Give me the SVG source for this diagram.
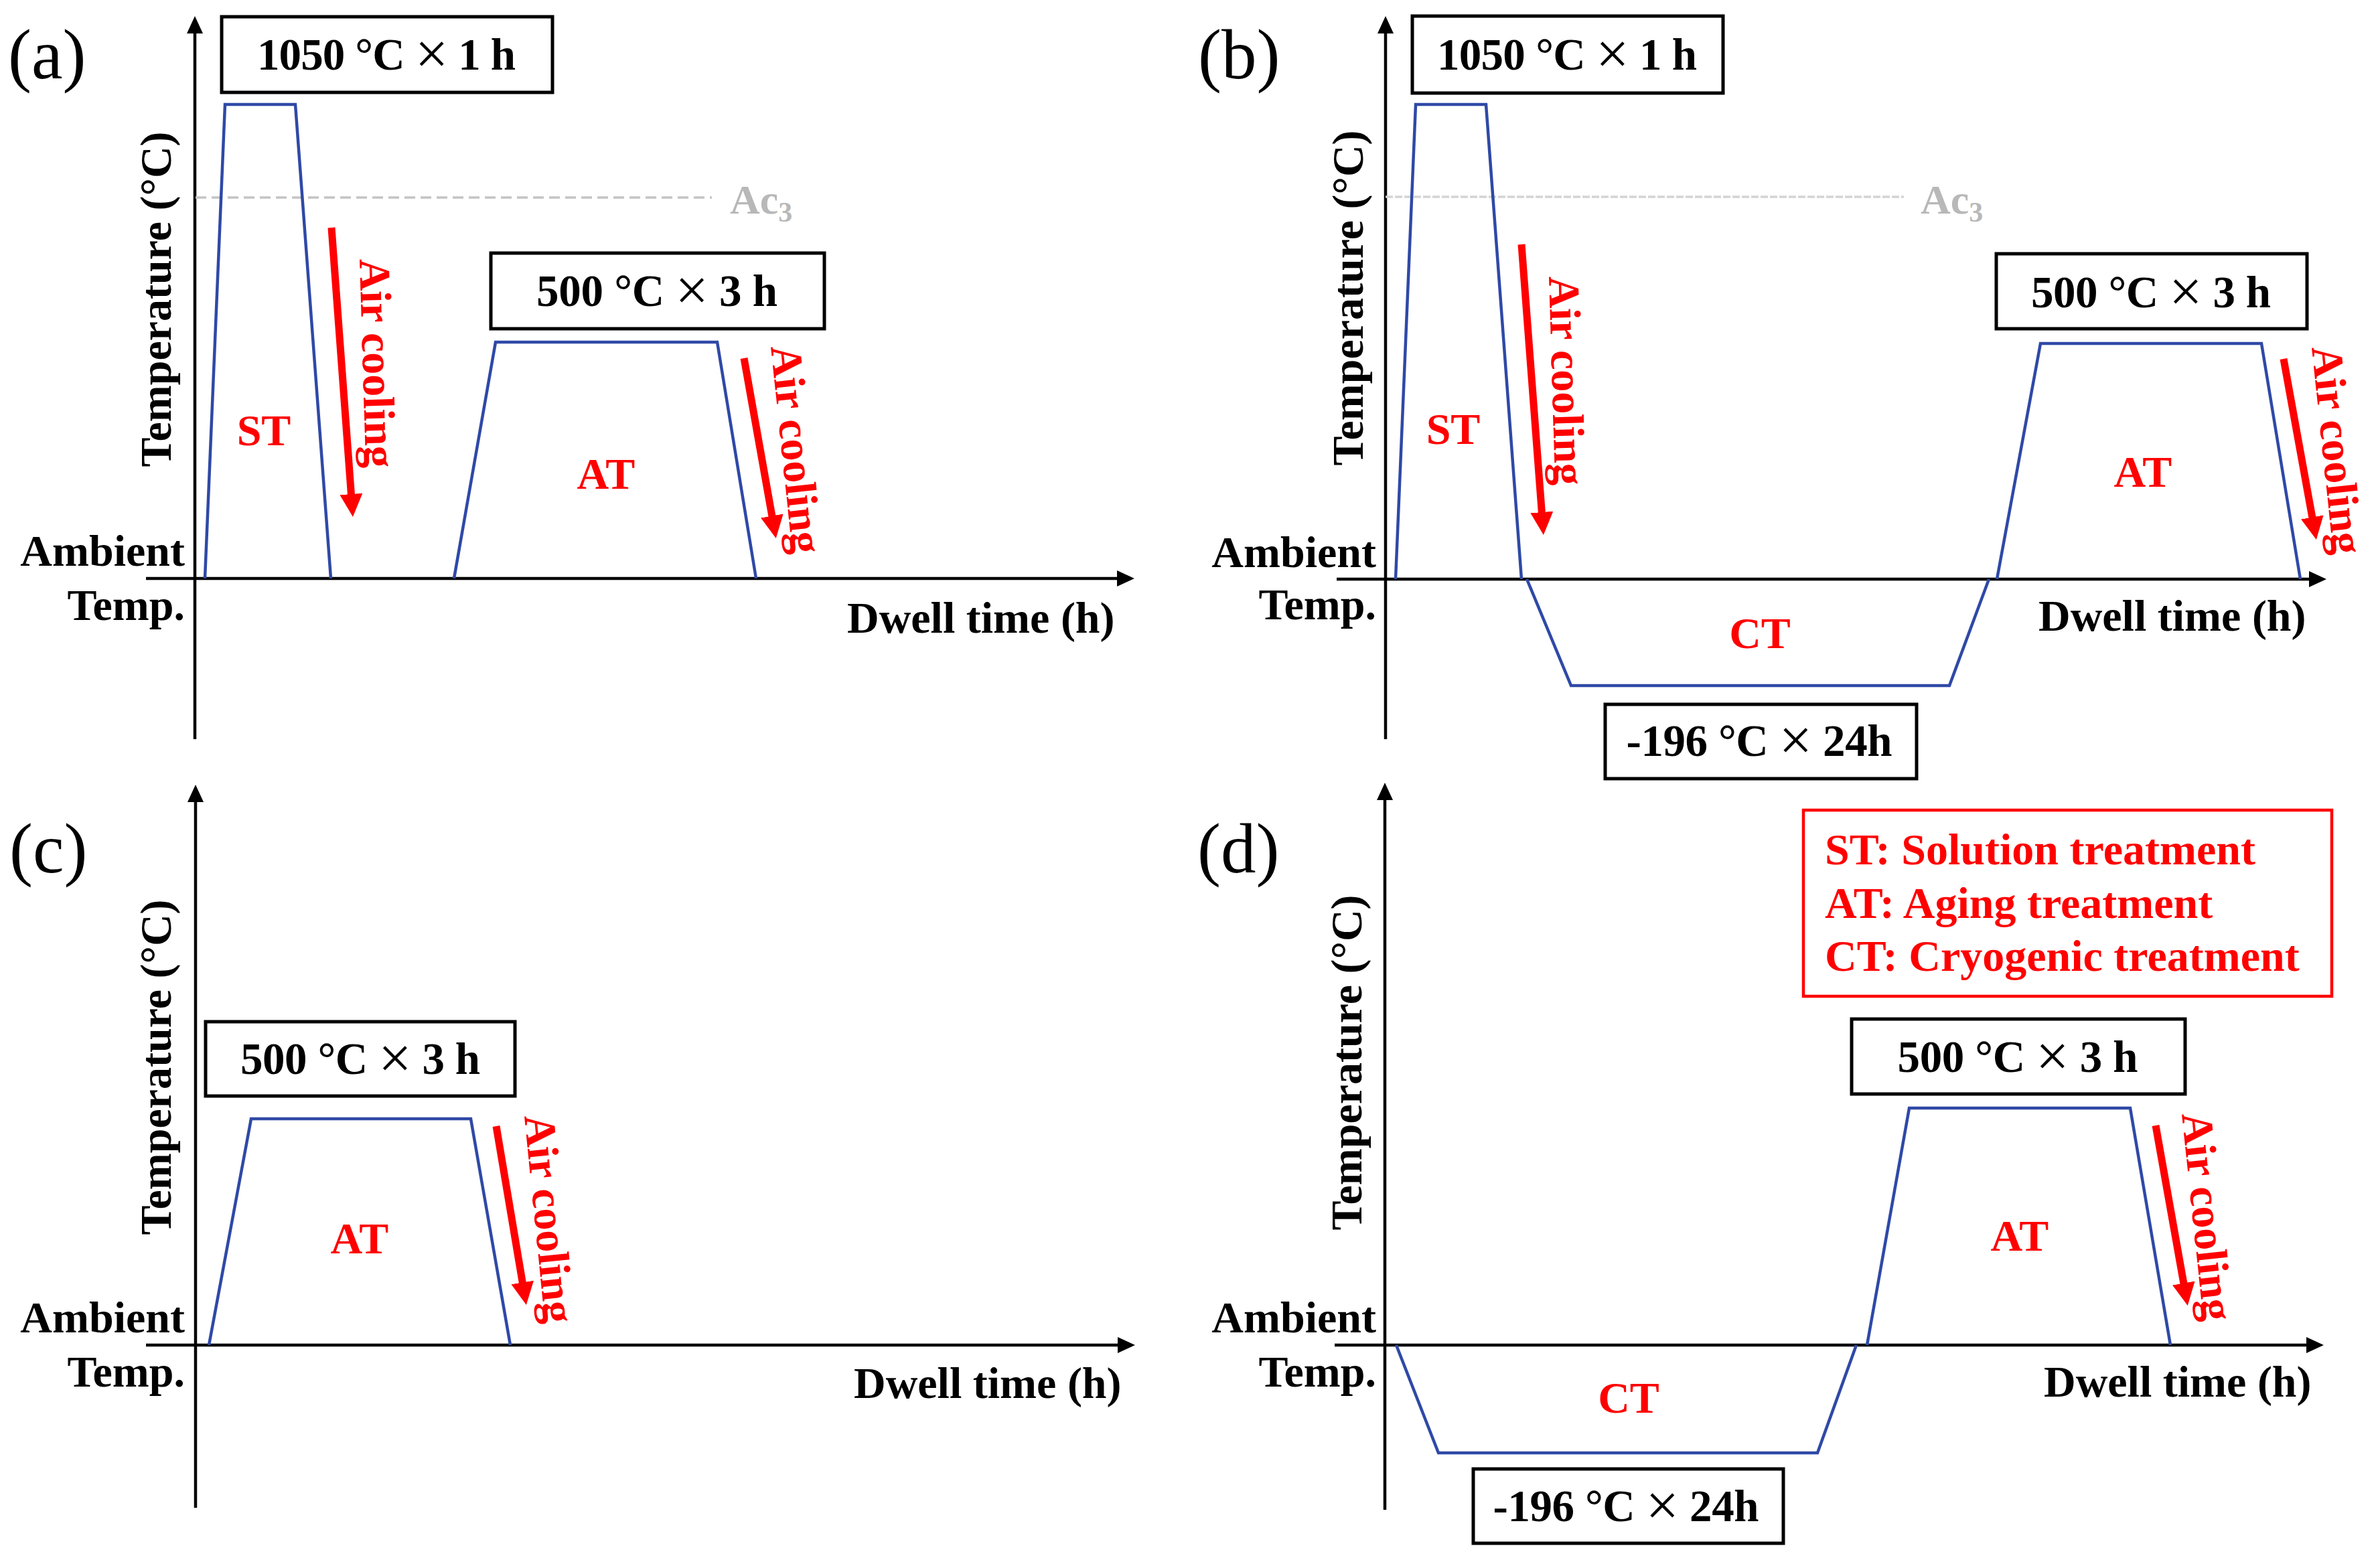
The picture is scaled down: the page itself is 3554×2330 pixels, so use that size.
<svg xmlns="http://www.w3.org/2000/svg" width="3554" height="2330" viewBox="0 0 3554 2330">
<style>
.t{font-family:"Liberation Serif","Times New Roman",serif;font-weight:bold;font-size:66px;fill:#000}
.r{fill:#ff0000}
.m{text-anchor:middle}
.e{text-anchor:end}
.bt{font-size:67px;text-anchor:middle}
.xs{font-weight:normal;font-size:88px}
.pl{font-weight:normal;font-size:105px}
.ac{fill:#b8b8b8;font-size:62px}
.ax{stroke:#000;stroke-width:4.5;fill:none}
.bx{fill:#fff;stroke:#000;stroke-width:5}
.lg{fill:#fff;stroke:#ff0000;stroke-width:4.5}
.tr{fill:none;stroke:#2f49a6;stroke-width:4.5;stroke-linejoin:miter}
.ra{stroke:#ff0000;stroke-width:11;fill:none}
.d1{stroke:#c4c4c4;stroke-width:3.5;stroke-dasharray:16 8}
.d2{stroke:#d4d4d4;stroke-width:3.5;stroke-dasharray:11 3}
</style>
<defs>
<marker id="ah" markerUnits="userSpaceOnUse" viewBox="0 -12 26 24" markerWidth="26" markerHeight="24" refX="1" refY="0" orient="auto"><path d="M0,-12 L26,0 L0,12 z" fill="#000"/></marker>
<marker id="rh" markerUnits="userSpaceOnUse" viewBox="0 -17 34 34" markerWidth="34" markerHeight="34" refX="1" refY="0" orient="auto"><path d="M0,-17 L34,0 L0,17 z" fill="#ff0000"/></marker>
</defs>
<rect width="3554" height="2330" fill="#fff"/>

<g id="connectors">
<line class="ax" x1="291" y1="1104" x2="291" y2="49" marker-end="url(#ah)"/>
<line class="ax" x1="218" y1="864" x2="1669" y2="864" marker-end="url(#ah)"/>
<line class="ax" x1="2069" y1="1104" x2="2069" y2="49" marker-end="url(#ah)"/>
<line class="ax" x1="1996" y1="865" x2="3449" y2="865" marker-end="url(#ah)"/>
<line class="ax" x1="292" y1="2252" x2="292" y2="1197" marker-end="url(#ah)"/>
<line class="ax" x1="218" y1="2009" x2="1670" y2="2009" marker-end="url(#ah)"/>
<line class="ax" x1="2068" y1="2255" x2="2068" y2="1194" marker-end="url(#ah)"/>
<line class="ax" x1="1993" y1="2009" x2="3445" y2="2009" marker-end="url(#ah)"/>
<line class="d1" x1="292" y1="295" x2="1063" y2="295"/>
<line class="d2" x1="2069" y1="294" x2="2843" y2="294"/>
<line class="ra" x1="495" y1="340" x2="524.5" y2="739" marker-end="url(#rh)"/>
<line class="ra" x1="1111" y1="535" x2="1153" y2="771.5" marker-end="url(#rh)"/>
<line class="ra" x1="2272" y1="365" x2="2302.4" y2="766" marker-end="url(#rh)"/>
<line class="ra" x1="3410" y1="536" x2="3453" y2="773.5" marker-end="url(#rh)"/>
<line class="ra" x1="741" y1="1682" x2="780.4" y2="1916.5" marker-end="url(#rh)"/>
<line class="ra" x1="3219" y1="1681" x2="3261" y2="1917.5" marker-end="url(#rh)"/>
<polyline class="tr" points="306,864 336,156 441,156 494,864"/>
<polyline class="tr" points="678,864 740,511 1071,511 1129,864"/>
<polyline class="tr" points="2084,865 2114,156 2219,156 2272,865"/>
<polyline class="tr" points="2280,865 2346,1024 2911,1024 2970,865"/>
<polyline class="tr" points="2982,865 3047,513 3377,513 3435,865"/>
<polyline class="tr" points="312,2009 375,1671 703,1671 762,2009"/>
<polyline class="tr" points="2085,2009 2148,2170 2714,2170 2772,2009"/>
<polyline class="tr" points="2788,2009 2851,1655 3181,1655 3241,2009"/>
</g>

<g id="panel-a">
<text class="t pl" x="12" y="117">(a)</text>
<g id="a-box-st"><rect class="bx" x="331" y="25" width="494" height="113"/><text class="t bt" x="577" y="104" textLength="386">1050 °C <tspan class="xs" dy="6">×</tspan><tspan dy="-6"> 1 h</tspan></text></g>
<g id="a-box-at"><rect class="bx" x="733" y="378" width="498" height="113"/><text class="t bt" x="981" y="457" textLength="360">500 °C <tspan class="xs" dy="6">×</tspan><tspan dy="-6"> 3 h</tspan></text></g>
<text class="t ac" x="1090" y="319">Ac<tspan font-size="42" dy="12">3</tspan></text>
<text class="t r m" x="394" y="665">ST</text>
<text class="t r m" x="905" y="730">AT</text>
<text class="t r" transform="translate(537,387) rotate(88.3)">Air cooling</text>
<text class="t r" transform="translate(1151,518) rotate(84)">Air cooling</text>
<text class="t e" x="276" y="845">Ambient</text>
<text class="t e" x="276" y="926">Temp.</text>
<text class="t" x="1265" y="945">Dwell time (h)</text>
<text class="t m" transform="translate(255,447) rotate(-90)">Temperature (°C)</text>
</g>

<g id="panel-b">
<text class="t pl" x="1789" y="117">(b)</text>
<g id="b-box-st"><rect class="bx" x="2109" y="24" width="464" height="115"/><text class="t bt" x="2340" y="104" textLength="388">1050 °C <tspan class="xs" dy="6">×</tspan><tspan dy="-6"> 1 h</tspan></text></g>
<g id="b-box-at"><rect class="bx" x="2981" y="379" width="464" height="112"/><text class="t bt" x="3212" y="459" textLength="358">500 °C <tspan class="xs" dy="6">×</tspan><tspan dy="-6"> 3 h</tspan></text></g>
<g id="b-box-ct"><rect class="bx" x="2397" y="1052" width="465" height="111"/><text class="t bt" x="2627" y="1129" textLength="397">-196 °C <tspan class="xs" dy="6">×</tspan><tspan dy="-6"> 24h</tspan></text></g>
<text class="t ac" x="2868" y="319">Ac<tspan font-size="42" dy="12">3</tspan></text>
<text class="t r m" x="2170" y="663">ST</text>
<text class="t r m" x="3200" y="727">AT</text>
<text class="t r m" x="2628" y="968">CT</text>
<text class="t r" transform="translate(2313,413) rotate(88.3)">Air cooling</text>
<text class="t r" transform="translate(3452,519) rotate(84)">Air cooling</text>
<text class="t e" x="2055" y="847">Ambient</text>
<text class="t e" x="2055" y="925">Temp.</text>
<text class="t" x="3044" y="942">Dwell time (h)</text>
<text class="t m" transform="translate(2035,445) rotate(-90)">Temperature (°C)</text>
</g>

<g id="panel-c">
<text class="t pl" x="14" y="1303">(c)</text>
<g id="c-box-at"><rect class="bx" x="307" y="1526" width="462" height="111"/><text class="t bt" x="538" y="1604" textLength="358">500 °C <tspan class="xs" dy="6">×</tspan><tspan dy="-6"> 3 h</tspan></text></g>
<text class="t r m" x="537" y="1872">AT</text>
<text class="t r" transform="translate(783,1667) rotate(84.3)">Air cooling</text>
<text class="t e" x="276" y="1990">Ambient</text>
<text class="t e" x="276" y="2071">Temp.</text>
<text class="t" x="1275" y="2088">Dwell time (h)</text>
<text class="t m" transform="translate(255,1594) rotate(-90)">Temperature (°C)</text>
</g>

<g id="panel-d">
<text class="t pl" x="1788" y="1303">(d)</text>
<g id="d-legend"><rect class="lg" x="2693" y="1210" width="789" height="278"/>
<text class="t r" x="2725" y="1291">ST: Solution treatment</text>
<text class="t r" x="2725" y="1371">AT: Aging treatment</text>
<text class="t r" x="2725" y="1450">CT: Cryogenic treatment</text></g>
<g id="d-box-at"><rect class="bx" x="2765" y="1522" width="498" height="112"/><text class="t bt" x="3013" y="1601" textLength="359">500 °C <tspan class="xs" dy="6">×</tspan><tspan dy="-6"> 3 h</tspan></text></g>
<g id="d-box-ct"><rect class="bx" x="2200" y="2194" width="463" height="111"/><text class="t bt" x="2428" y="2272" textLength="397">-196 °C <tspan class="xs" dy="6">×</tspan><tspan dy="-6"> 24h</tspan></text></g>
<text class="t r m" x="3016" y="1868">AT</text>
<text class="t r m" x="2432" y="2110">CT</text>
<text class="t r" transform="translate(3258,1664) rotate(84)">Air cooling</text>
<text class="t e" x="2055" y="1990">Ambient</text>
<text class="t e" x="2055" y="2071">Temp.</text>
<text class="t" x="3052" y="2086">Dwell time (h)</text>
<text class="t m" transform="translate(2033,1587) rotate(-90)">Temperature (°C)</text>
</g>
</svg>
